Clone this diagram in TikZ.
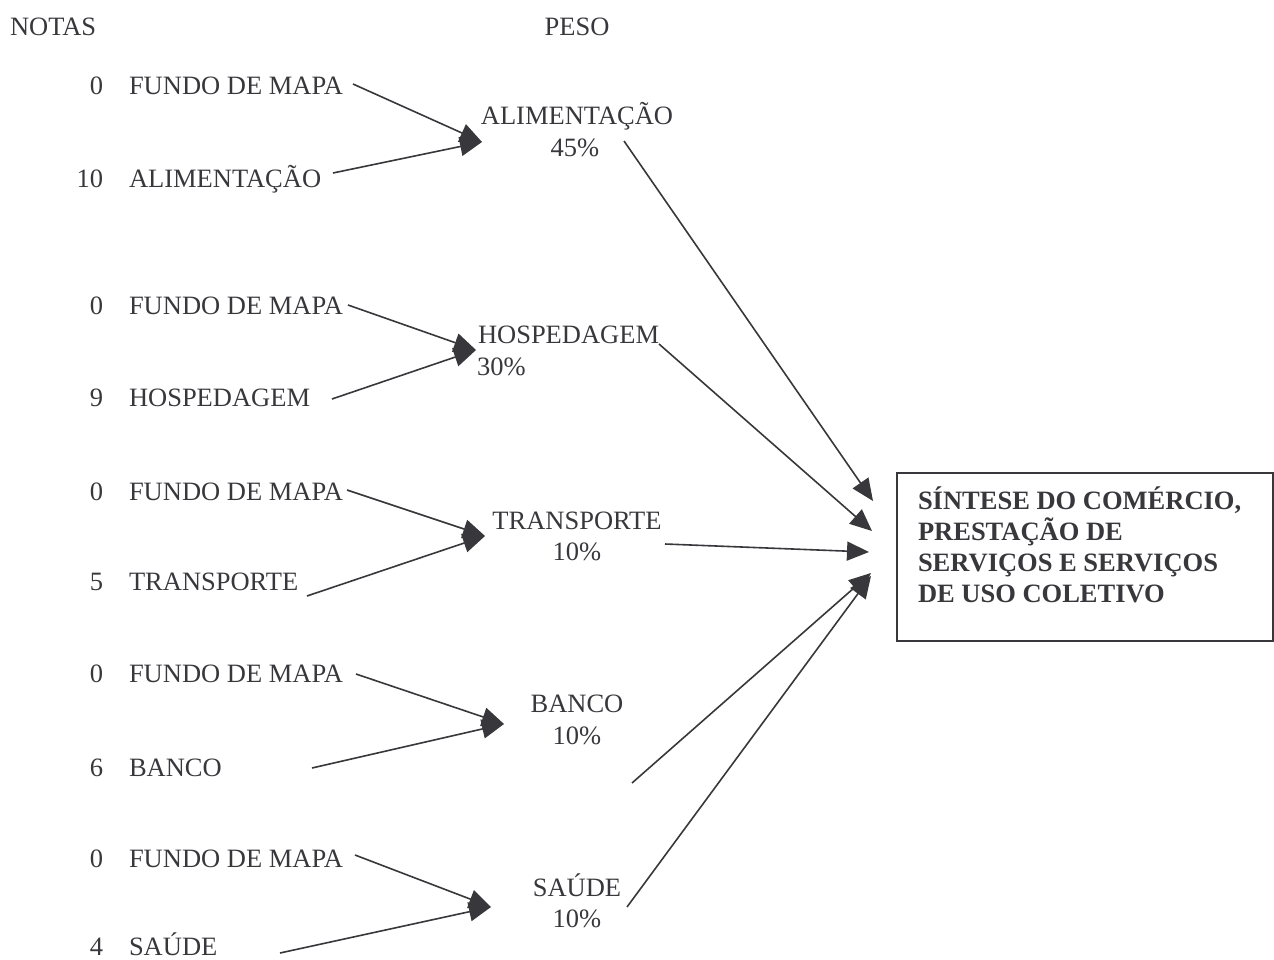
\documentclass[tikz,border=0pt]{standalone}
\usepackage{fontspec}
\setmainfont{Liberation Serif}
\usetikzlibrary{arrows.meta}
\definecolor{ink}{HTML}{38383C}
\begin{document}
\begin{tikzpicture}[x=1pt,y=-1pt,
  every node/.style={inner sep=0pt,outer sep=0pt,text=ink,font=\fontsize{26.5}{31}\selectfont},
  num/.style={anchor=base east},
  lab/.style={anchor=base west},
  mid/.style={anchor=base},
  conn/.style={draw=ink,line width=1.6pt,-{Triangle[length=22pt,width=19pt]}}]
\useasboundingbox (0,0) rectangle (1274,960);
% headers
\node[lab] (notas) at (10,36) {NOTAS};
\node[mid] (peso) at (577,36) {PESO};
% left column
\node[num] (n1) at (103,95) {0};   \node[lab] (l1) at (129,95) {FUNDO DE MAPA};
\node[num] (n2) at (103,188) {10}; \node[lab] (l2) at (129,188) {ALIMENTAÇÃO};
\node[num] (n3) at (103,314) {0};  \node[lab] (l3) at (129,314) {FUNDO DE MAPA};
\node[num] (n4) at (103,406) {9};  \node[lab] (l4) at (129,406) {HOSPEDAGEM};
\node[num] (n5) at (103,500) {0};  \node[lab] (l5) at (129,500) {FUNDO DE MAPA};
\node[num] (n6) at (103,590) {5};  \node[lab] (l6) at (129,590) {TRANSPORTE};
\node[num] (n7) at (103,682) {0};  \node[lab] (l7) at (129,682) {FUNDO DE MAPA};
\node[num] (n8) at (103,776) {6};  \node[lab] (l8) at (129,776) {BANCO};
\node[num] (n9) at (103,867) {0};  \node[lab] (l9) at (129,867) {FUNDO DE MAPA};
\node[num] (n10) at (103,955) {4}; \node[lab] (l10) at (129,955) {SAÚDE};
% middle column
\node[mid] (alim) at (577,125) {ALIMENTAÇÃO};
\node[mid] (alimp) at (575,157) {45\%};
\node[lab] (hosp) at (478,343) {HOSPEDAGEM};
\node[lab] (hospp) at (477,375) {30\%};
\node[mid] (trans) at (577,529) {TRANSPORTE};
\node[mid] (transp) at (577,560) {10\%};
\node[mid] (banco) at (577,712) {BANCO};
\node[mid] (bancop) at (577,744) {10\%};
\node[mid] (saude) at (577,896) {SAÚDE};
\node[mid] (saudep) at (577,927) {10\%};
% result box
\draw[draw=ink,line width=1.6pt] (897,473) rectangle (1273,641);
\node[font=\fontsize{26.5}{31}\selectfont\bfseries,align=left,anchor=base west] (box) at (918,602)
  {SÍNTESE DO COMÉRCIO,\\PRESTAÇÃO DE\\SERVIÇOS E SERVIÇOS\\DE USO COLETIVO};
% connector end points
\coordinate (s1) at (353,84);  \coordinate (s2) at (333,173); \coordinate (t1) at (482,142);
\coordinate (s3) at (348,305); \coordinate (s4) at (332,399); \coordinate (t2) at (476,350);
\coordinate (s5) at (347,490); \coordinate (s6) at (307,596); \coordinate (t3) at (485,536);
\coordinate (s7) at (356,674); \coordinate (s8) at (312,768); \coordinate (t4) at (504,724);
\coordinate (s9) at (355,855); \coordinate (s10) at (280,953); \coordinate (t5) at (491,907);
\coordinate (o1) at (624,141); \coordinate (b1) at (873,501);
\coordinate (o2) at (659,344); \coordinate (b2) at (872,531);
\coordinate (o3) at (665,544); \coordinate (b3) at (869,552);
\coordinate (o4) at (632,783); \coordinate (b4) at (871,573);
\coordinate (o5) at (627,907); \coordinate (b5) at (871,576);
% connectors
\draw[conn] (s1) -- (t1); \draw[conn] (s2) -- (t1);
\draw[conn] (s3) -- (t2); \draw[conn] (s4) -- (t2);
\draw[conn] (s5) -- (t3); \draw[conn] (s6) -- (t3);
\draw[conn] (s7) -- (t4); \draw[conn] (s8) -- (t4);
\draw[conn] (s9) -- (t5); \draw[conn] (s10) -- (t5);
\draw[conn] (o1) -- (b1);
\draw[conn] (o2) -- (b2);
\draw[conn] (o3) -- (b3);
\draw[conn] (o4) -- (b4);
\draw[conn] (o5) -- (b5);
\end{tikzpicture}
\end{document}
